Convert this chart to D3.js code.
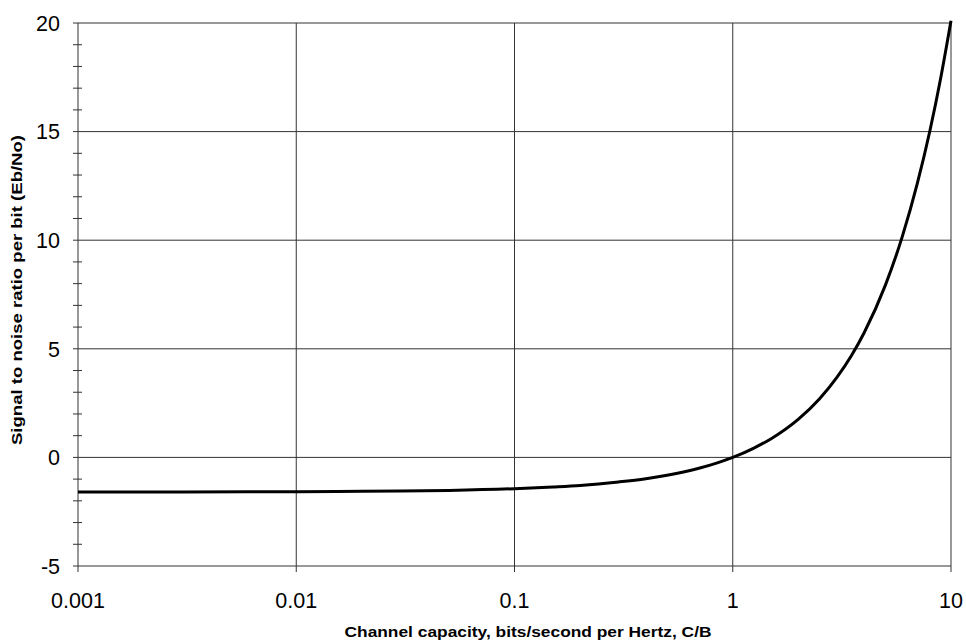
<!DOCTYPE html>
<html>
<head>
<meta charset="utf-8">
<script src="https://cdn.jsdelivr.net/npm/d3@7"></script>
<style>
  body { margin: 0; background: #fff; }
  svg { display: block; font-family: Arial, "Liberation Sans", sans-serif; }
</style>
</head>
<body>
<svg id="chart" width="966" height="641"></svg>
<script>
// capacity C/B (bits/s/Hz) and Eb/No (dB)
const capacity = [0.001, 0.003, 0.01, 0.02, 0.03, 0.05, 0.1, 0.15, 0.2, 0.3, 0.4, 0.5, 0.7, 0.85, 1, 1.25, 1.5, 2, 2.5, 3, 3.5, 4, 5, 6, 7, 8, 9, 10];
const ebno = [-1.59, -1.59, -1.58, -1.56, -1.55, -1.52, -1.44, -1.36, -1.29, -1.13, -0.98, -0.82, -0.50, -0.25, 0, 0.43, 0.86, 1.76, 2.70, 3.68, 4.69, 5.74, 7.92, 10.21, 12.59, 15.03, 17.54, 20.10];
const xTicks = [0.001, 0.01, 0.1, 1, 10];
const xTickLabels = ['0.001', '0.01', '0.1', '1', '10'];
const yTicks = [-5, 0, 5, 10, 15, 20];

const margin = { left: 78, right: 15, top: 23, bottom: 75 };
const width = 966, height = 641;
const svg = d3.select('#chart');

const x = d3.scaleLog().domain([0.001, 10]).range([margin.left, width - margin.right]);
const y = d3.scaleLinear().domain([-5, 20]).range([height - margin.bottom, margin.top]);

// grid
svg.append('g')
  .selectAll('line')
  .data(yTicks)
  .join('line')
  .attr('x1', x(0.001) - 5).attr('x2', x(10))
  .attr('y1', d => y(d)).attr('y2', d => y(d))
  .attr('stroke', '#333').attr('stroke-width', 1);

svg.append('g')
  .selectAll('line')
  .data(xTicks)
  .join('line')
  .attr('x1', d => x(d)).attr('x2', d => x(d))
  .attr('y1', y(20)).attr('y2', y(-5) + 6)
  .attr('stroke', '#333').attr('stroke-width', 1);

// minor y ticks
const minor = d3.range(-5, 21, 1).filter(d => d % 5 !== 0);
svg.append('g')
  .selectAll('line')
  .data(minor)
  .join('line')
  .attr('x1', x(0.001) - 5).attr('x2', x(0.001) + 4)
  .attr('y1', d => y(d)).attr('y2', d => y(d))
  .attr('stroke', '#333').attr('stroke-width', 1);

// tick labels
svg.append('g')
  .selectAll('text')
  .data(yTicks)
  .join('text')
  .attr('x', 60).attr('y', d => y(d))
  .attr('dy', '0.36em')
  .attr('text-anchor', 'end')
  .attr('font-size', 21.5)
  .text(d => d);

svg.append('g')
  .selectAll('text')
  .data(xTicks)
  .join('text')
  .attr('x', d => x(d)).attr('y', 608)
  .attr('text-anchor', 'middle')
  .attr('font-size', 21.5)
  .text((d, i) => xTickLabels[i]);

// axis titles
svg.append('text')
  .attr('x', 528).attr('y', 637)
  .attr('text-anchor', 'middle')
  .attr('font-size', 15).attr('font-weight', 'bold')
  .attr('textLength', 367).attr('lengthAdjust', 'spacingAndGlyphs')
  .text('Channel capacity, bits/second per Hertz, C/B');

svg.append('text')
  .attr('transform', 'translate(22,290) rotate(-90)')
  .attr('text-anchor', 'middle')
  .attr('font-size', 14).attr('font-weight', 'bold')
  .attr('textLength', 310).attr('lengthAdjust', 'spacingAndGlyphs')
  .text('Signal to noise ratio per bit (Eb/No)');

// curve
const line = d3.line()
  .x((d, i) => x(capacity[i]))
  .y(d => y(d))
  .curve(d3.curveMonotoneX);

svg.append('path')
  .attr('d', line(ebno))
  .attr('fill', 'none')
  .attr('stroke', '#000')
  .attr('stroke-width', 3);
</script>
</body>
</html>
